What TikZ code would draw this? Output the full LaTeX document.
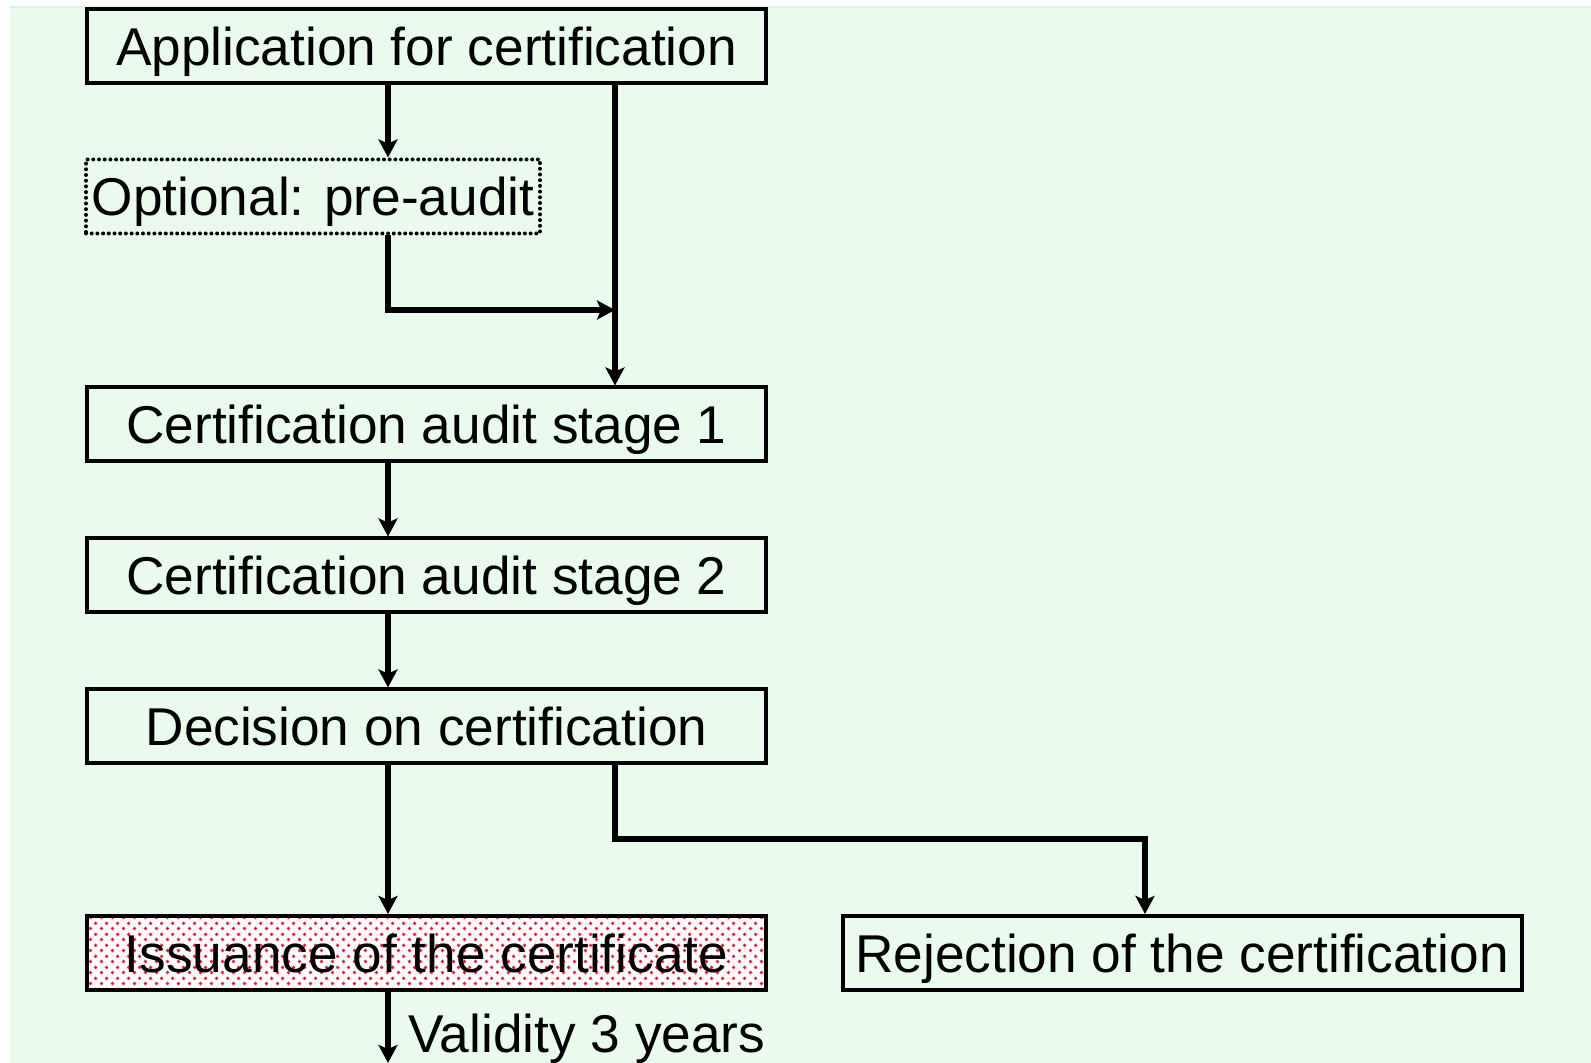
\documentclass[tikz,border=0pt]{standalone}
\usepackage{fontspec}
\setmainfont{Liberation Sans}
\usetikzlibrary{arrows.meta,patterns}
\definecolor{bgc}{RGB}{234,251,238}
\definecolor{bgline}{RGB}{216,247,221}
\definecolor{dotred}{RGB}{240,30,55}
\pgfdeclarepatternformonly{reddots}{\pgfpointorigin}{\pgfpoint{5.5pt}{5.5pt}}{\pgfpoint{5.5pt}{5.5pt}}{%
  \pgfpathcircle{\pgfpoint{1.375pt}{1.375pt}}{1pt}%
  \pgfpathcircle{\pgfpoint{4.125pt}{4.125pt}}{1pt}%
  \pgfusepath{fill}}
\tikzset{
  box/.style={draw, line width=2pt, minimum width=339.5pt, minimum height=37pt,
    inner sep=0pt, text height=19pt, text depth=0pt, font=\fontsize{26.6}{30}\selectfont},
  optbox/.style={box, draw, dash pattern=on 0pt off 2.85pt, line cap=round, line width=2pt, minimum width=227pt},
  issbox/.style={box, preaction={fill=white}, pattern=reddots, pattern color=dotred},
  arr/.style={line width=2.6pt, -{Stealth[length=9pt,width=9.5pt,inset=2pt]}},
  lbl/.style={inner sep=0pt, font=\fontsize{26.6}{30}\selectfont}
}
\begin{document}
\begin{tikzpicture}[x=0.5pt,y=-0.5pt]
\useasboundingbox (0,0) rectangle (1591,1063);
\fill[bgc] (10,7) rectangle (1591,1063);
\draw[bgline, line width=1pt] (10,7.5) -- (1591,7.5);

\node[box] (app) at (426.5,46.5) {Application for certification};
\node[optbox] (pre) at (313,196.5) {Optional: pre-audit};
\node[box] (s1) at (426.5,424.5) {Certification audit stage 1};
\node[box] (s2) at (426.5,575.5) {Certification audit stage 2};
\node[box] (dec) at (426.5,726.5) {Decision on certification\hspace{7.5pt}};
\node[issbox] (iss) at (426.5,953) {Issuance of the certificate};
\node[box] (rej) at (1182,953) {Rejection of the certification};

\coordinate (xa) at (388,0);
\coordinate (xb) at (615,0);
\coordinate (xr) at (1145,0);
\coordinate (j1) at (615,310);
\coordinate (j2) at (615,839);
\coordinate (bot) at (388,1063);

\draw[arr] (xa |- app.south) -- (xa |- pre.north);
\draw[arr] (xb |- app.south) -- (xb |- s1.north);
\draw[arr] (xa |- pre.south) |- (j1);
\draw[arr] (xa |- s1.south) -- (xa |- s2.north);
\draw[arr] (xa |- s2.south) -- (xa |- dec.north);
\draw[arr] (xa |- dec.south) -- (xa |- iss.north);
\draw[arr] (xb |- dec.south) -- (j2) -| (xr |- rej.north);
\draw[arr] (xa |- iss.south) -- (bot);

\node[lbl, anchor=base west] (val) at (408,1052) {Validity 3 years};
\end{tikzpicture}
\end{document}
